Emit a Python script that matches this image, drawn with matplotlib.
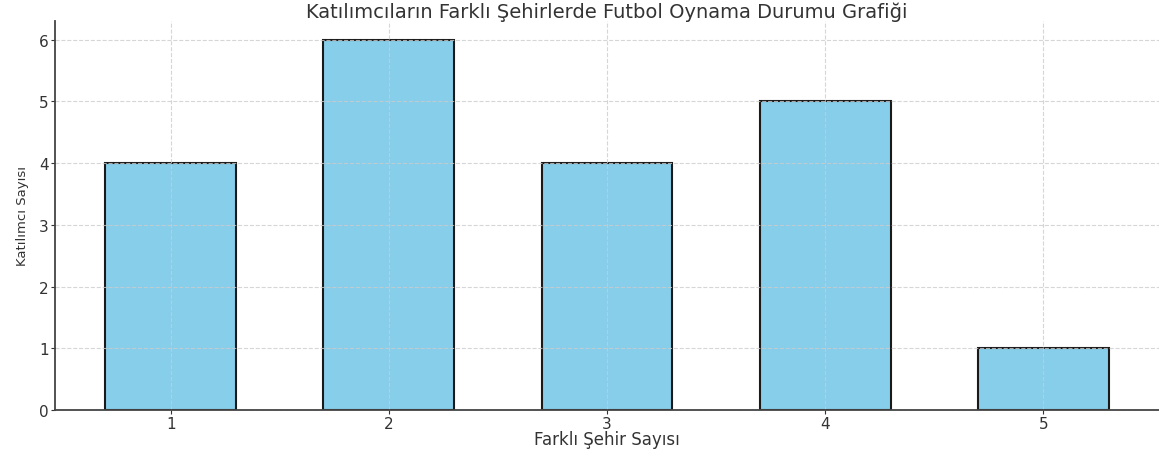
import matplotlib
matplotlib.use('Agg')
import matplotlib.pyplot as plt

plt.rcParams['font.family'] = ['DejaVu Sans']

# 数据
sehir_sayisi = [1, 2, 3, 4, 5]
katilimci = [4, 6, 4, 5, 1]

TEXT = '#333333'

fig = plt.figure(figsize=(11.59, 4.52), dpi=100)
ax = fig.add_axes([55 / 1159, 1 - 411 / 452, 1 - 55 / 1159, (411 - 22) / 452])

ax.bar(sehir_sayisi, katilimci, width=0.6, color='skyblue',
       edgecolor='#1a1a1a', linewidth=1.5)

ax.set_xticks(sehir_sayisi)
ax.set_yticks(range(0, 7))
ax.grid(True, linestyle='--', color='#cccccc', linewidth=0.8, alpha=0.8)

for side in ('top', 'right'):
    ax.spines[side].set_visible(False)
for side in ('left', 'bottom'):
    ax.spines[side].set_color('#444444')
    ax.spines[side].set_linewidth(1.3)

ax.tick_params(colors=TEXT, labelsize=11, pad=1.5, length=3)
ax.set_title('Katılımcıların Farklı Şehirlerde Futbol Oynama Durumu Grafiği',
             fontsize=14, color=TEXT, pad=3)
ax.set_xlabel('Farklı Şehir Sayısı', fontsize=12, color=TEXT)
ax.xaxis.set_label_coords(0.5, -0.052)
ax.set_ylabel('Katılımcı Sayısı', fontsize=9.5, color=TEXT, labelpad=7)

fig.savefig('out.png', dpi=100)
